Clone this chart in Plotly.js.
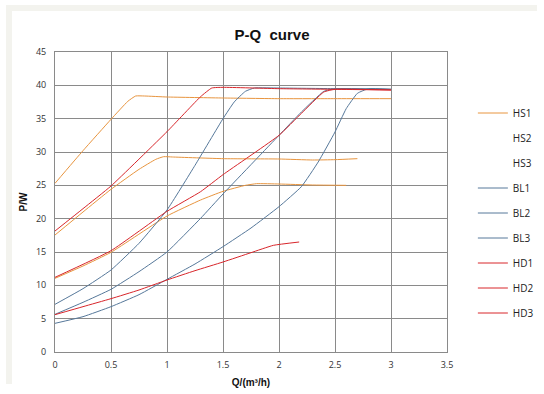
<!DOCTYPE html>
<html>
<head>
<meta charset="utf-8">
<script src="https://cdn.plot.ly/plotly-3.0.1.min.js"></script>
<style>html,body{margin:0;padding:0;background:#fff;}#chart{width:544px;height:394px;}</style>
</head>
<body>
<div id="chart"></div>
<script>
// Data (Q in m3/h, P in W)
const hs1Q = [0, 0.25, 0.5, 0.65, 0.72, 0.8, 1.0, 1.5, 2.0, 2.5, 3.0];
const hs1P = [25.3, 30.2, 34.9, 37.6, 38.4, 38.4, 38.25, 38.1, 38.0, 38.0, 38.0];

const hs2Q = [0, 0.25, 0.5, 0.75, 0.9, 0.97, 1.05, 1.5, 2.0, 2.3, 2.5, 2.7];
const hs2P = [17.55, 21.0, 24.4, 27.4, 28.9, 29.3, 29.25, 29.0, 28.95, 28.8, 28.85, 29.0];

const hs3Q = [0, 0.25, 0.5, 1.0, 1.3, 1.5, 1.7, 1.8, 2.0, 2.3, 2.6];
const hs3P = [11.05, 12.9, 14.95, 20.4, 22.8, 24.1, 25.0, 25.25, 25.2, 25.05, 25.0];

const bl1Q = [0, 0.25, 0.5, 0.75, 1.0, 1.25, 1.5, 1.6, 1.7, 1.78, 2.0, 2.5, 3.0];
const bl1P = [7.15, 9.5, 12.3, 16.3, 21.3, 28.0, 35.0, 37.5, 39.1, 39.6, 39.6, 39.5, 39.4];

const bl2Q = [0, 0.25, 0.5, 0.75, 1.0, 1.3, 1.5, 2.0, 2.2, 2.4, 2.5, 3.0];
const bl2P = [5.65, 7.45, 9.4, 12.05, 15.0, 20.05, 23.7, 32.5, 36.0, 39.1, 39.5, 39.4];

const bl3Q = [0, 0.25, 0.5, 0.75, 1.0, 1.25, 1.5, 1.75, 2.0, 2.2, 2.35, 2.5, 2.6, 2.7, 2.8, 3.0];
const bl3P = [4.3, 5.3, 6.8, 8.6, 10.9, 13.2, 15.8, 18.6, 21.8, 24.8, 28.5, 33.0, 36.5, 38.8, 39.5, 39.4];

const hd1Q = [0, 0.25, 0.5, 1.0, 1.3, 1.4, 1.5, 2.0, 2.5, 3.0];
const hd1P = [18.15, 21.5, 24.9, 33.05, 38.3, 39.6, 39.7, 39.5, 39.4, 39.3];

const hd2Q = [0, 0.5, 1.0, 1.3, 1.5, 2.0, 2.2, 2.4, 2.5, 3.0];
const hd2P = [11.2, 15.2, 21.1, 24.05, 26.6, 32.5, 35.8, 39.0, 39.4, 39.3];

const hd3Q = [0, 0.25, 0.5, 0.75, 1.0, 1.25, 1.5, 1.75, 1.95, 2.18];
const hd3P = [5.6, 6.8, 8.0, 9.3, 10.8, 12.2, 13.5, 14.9, 16.0, 16.5];

const xTicks = [0, 0.5, 1, 1.5, 2, 2.5, 3, 3.5];
const xTickText = ['0', '0.5', '1', '1.5', '2', '2.5', '3', '3.5'];
const yTicks = [0, 5, 10, 15, 20, 25, 30, 35, 40, 45];

const cHS = '#E8953F';
const cBL = '#56789A';
const cHD = '#D8262B';

function tr(name, x, y, color, rank, show) {
  return {
    type: 'scatter', mode: 'lines', name: name, x: x, y: y,
    line: {color: color, width: 1, shape: 'spline', smoothing: 0.4},
    legendgroup: name, legendrank: rank, showlegend: show !== false,
    hoverinfo: 'skip'
  };
}

const traces = [
  tr('HS1', hs1Q, hs1P, cHS, 1),
  tr('HS2', hs2Q, hs2P, cHS, 2, false),
  tr('HS3', hs3Q, hs3P, cHS, 3, false),
  // legend entries for HS2/HS3 show no visible line sample in the reference
  {type: 'scatter', mode: 'lines', name: 'HS2', x: [null], y: [null], line: {color: 'rgba(255,255,255,0)', width: 1}, legendgroup: 'HS2b', legendrank: 2},
  {type: 'scatter', mode: 'lines', name: 'HS3', x: [null], y: [null], line: {color: 'rgba(255,255,255,0)', width: 1}, legendgroup: 'HS3b', legendrank: 3},
  tr('BL1', bl1Q, bl1P, cBL, 4),
  tr('BL2', bl2Q, bl2P, cBL, 5),
  tr('BL3', bl3Q, bl3P, cBL, 6),
  tr('HD1', hd1Q, hd1P, cHD, 7),
  tr('HD2', hd2Q, hd2P, cHD, 8),
  tr('HD3', hd3Q, hd3P, cHD, 9)
];

const layout = {
  width: 544, height: 394,
  margin: {l: 55, r: 97, t: 52, b: 42, autoexpand: false},
  paper_bgcolor: '#ffffff', plot_bgcolor: '#ffffff',
  font: {family: 'Open Sans, Liberation Sans, sans-serif', size: 10, color: '#333'},
  title: {text: '<b>P-Q\u00a0 curve</b>', x: 0.5, xref: 'container', xanchor: 'center', y: 0.912, yref: 'container', yanchor: 'middle',
          font: {family: 'Liberation Sans, Arial, sans-serif', size: 15, color: '#111'}},
  xaxis: {
    range: [0, 3.5], tickvals: xTicks, ticktext: xTickText,
    showgrid: true, gridcolor: '#8a8a8a', gridwidth: 1,
    showline: true, linecolor: '#8a8a8a', linewidth: 1, mirror: true,
    zeroline: false, ticks: '', ticklabelstandoff: 4,
    tickfont: {size: 9, color: '#333'},
    title: {text: '<b>Q/(m³/h)</b>', standoff: 9, font: {family: 'Liberation Sans, Arial, sans-serif', size: 10, color: '#111'}}
  },
  yaxis: {
    range: [0, 45], tickvals: yTicks,
    showgrid: true, gridcolor: '#8a8a8a', gridwidth: 1,
    showline: true, linecolor: '#8a8a8a', linewidth: 1, mirror: true,
    zeroline: false, ticks: '', ticklabelstandoff: 6,
    tickfont: {size: 9, color: '#333'},
    title: {text: '<b>P/W</b>', standoff: 6, font: {family: 'Liberation Sans, Arial, sans-serif', size: 10, color: '#111'}}
  },
  legend: {
    x: 1.066, xanchor: 'left', y: 0.845, yanchor: 'top',
    font: {size: 10, color: '#222'}, bgcolor: 'rgba(0,0,0,0)',
    tracegroupgap: 6, itemwidth: 30
  },
  shapes: [
    {type: 'rect', xref: 'paper', yref: 'paper', x0: -49/392, x1: 482/392, y0: (352-5)/300, y1: (352-11)/300, fillcolor: '#f3f3ee', line: {width: 0}, layer: 'below'},
    {type: 'rect', xref: 'paper', yref: 'paper', x0: -49/392, x1: -43/392, y0: (352-384)/300, y1: (352-11)/300, fillcolor: '#f3f3ee', line: {width: 0}, layer: 'below'}
  ],
  showlegend: true
};

Plotly.newPlot('chart', traces, layout, {staticPlot: true, displayModeBar: false});
</script>
</body>
</html>
